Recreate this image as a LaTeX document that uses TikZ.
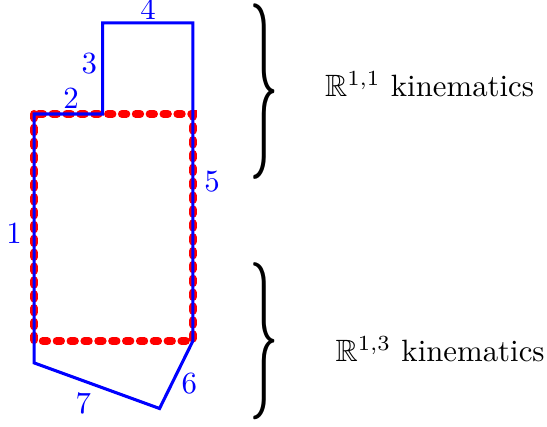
\documentclass[tikz,border=0pt]{standalone}
\usepackage{amsmath,amssymb}
\usepackage{graphicx}
\usepackage{xcolor}
\usepackage{tikz}

\begin{document}
\begin{tikzpicture}[
    edge/.style={blue, line width=1pt},
    num/.style={text=blue, inner sep=1pt},
    trunc/.style={red, line width=2.6pt, line cap=round, dash pattern=on 1.4pt off 3.1pt},
    curly/.style={inner sep=0pt}
]
\useasboundingbox (0,0) rectangle (6.24,4.87);

% corners of the region
\coordinate (a) at (0.39, 3.57);
\coordinate (b) at (1.17, 3.57);
\coordinate (c) at (1.17, 4.61);
\coordinate (d) at (2.20, 4.61);
\coordinate (e) at (2.20, 0.98);
\coordinate (f) at (1.82, 0.21);
\coordinate (g) at (0.39, 0.73);

\draw[trunc] (a) rectangle (e);
\draw[edge, line join=miter] (a) -- (b) -- (c) -- (d) -- (e) -- (f) -- (g) -- cycle;

\node[num] (n1) at (0.16, 2.21) {1};
\node[num] (n2) at (0.81, 3.75) {2};
\node[num] (n3) at (1.02, 4.15) {3};
\node[num] (n4) at (1.69, 4.77) {4};
\node[num] (n5) at (2.42, 2.80) {5};
\node[num] (n6) at (2.16, 0.50) {6};
\node[num] (n7) at (0.95, 0.27) {7};

\node[curly] (upbrace) at (3.02, 3.82) {\resizebox*{9.6pt}{57pt}{$\}$}};
\node[curly] (lowbrace) at (3.02, 0.98) {\resizebox*{9.6pt}{51pt}{$\}$}};
\node (upkin) at (4.90, 3.91) {$\mathbb{R}^{1,1}$ kinematics};
\node (lowkin) at (5.02, 0.89) {$\mathbb{R}^{1,3}$ kinematics};
\end{tikzpicture}
\end{document}
